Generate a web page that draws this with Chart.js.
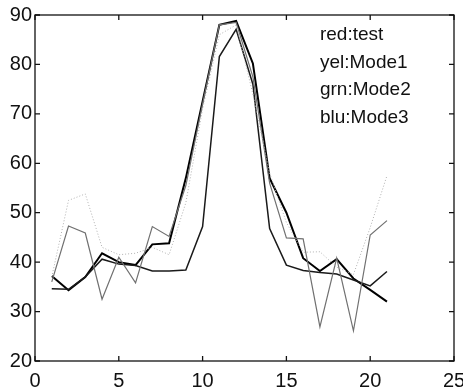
<!DOCTYPE html>
<html>
<head>
<meta charset="utf-8">
<script src="https://cdn.jsdelivr.net/npm/chart.js@4.4.1/dist/chart.umd.min.js"></script>
<style>
  html, body { margin: 0; padding: 0; background: #fff; }
  #wrap { width: 463px; height: 389px; }
</style>
</head>
<body>
<div id="wrap"><canvas id="chart"></canvas></div>
<script>
// sample index 1..21
var xs = [1, 2, 3, 4, 5, 6, 7, 8, 9, 10, 11, 12, 13, 14, 15, 16, 17, 18, 19, 20, 21];

// values
var modeA = [34.6, 34.5, 37.0, 40.6, 39.6, 39.3, 38.2, 38.2, 38.4, 47.2, 81.6, 87.1, 76.0, 46.8, 39.4, 38.3, 37.9, 37.6, 36.4, 35.2, 38.1];
var modeB = [37.2, 34.3, 37.0, 41.8, 40.0, 39.4, 43.6, 43.8, 57.0, 72.5, 88.0, 88.8, 80.2, 57.0, 50.0, 40.8, 38.2, 40.6, 36.7, 34.4, 32.0];
var modeC = [36.0, 47.3, 45.9, 32.5, 41.0, 35.8, 47.2, 45.2, 55.5, 72.0, 88.0, 88.5, 77.5, 56.0, 44.9, 44.7, 26.9, 40.8, 26.1, 45.5, 48.4];
var modeD = [37.0, 52.5, 53.8, 43.0, 41.5, 41.8, 43.0, 41.5, 52.0, 71.0, 86.0, 88.0, 74.0, 58.0, 48.0, 42.0, 42.1, 39.0, 37.5, 47.0, 57.5];

var xTicks = [0, 5, 10, 15, 20, 25];
var yTicks = [20, 30, 40, 50, 60, 70, 80, 90];
var notes = ['red:test', 'yel:Mode1', 'grn:Mode2', 'blu:Mode3'];

var FONT = '"Liberation Sans", Arial, sans-serif';

function pts(vals) {
   return xs.map(function(x, i) { return { x: x, y: vals[i] }; });
}

// matlab-style box with inward ticks and the text notes
var boxPlugin = {
   id: 'box',
   afterDraw: function(chart) {
      var ctx = chart.ctx, a = chart.chartArea;
      var sx = chart.scales.x, sy = chart.scales.y;
      ctx.save();
      ctx.strokeStyle = '#111';
      ctx.lineWidth = 1.3;
      ctx.strokeRect(a.left, a.top, a.right - a.left, a.bottom - a.top);
      ctx.beginPath();
      xTicks.forEach(function(t) {
         var px = sx.getPixelForValue(t);
         ctx.moveTo(px, a.bottom); ctx.lineTo(px, a.bottom - 5);
         ctx.moveTo(px, a.top); ctx.lineTo(px, a.top + 5);
      });
      yTicks.forEach(function(t) {
         var py = sy.getPixelForValue(t);
         ctx.moveTo(a.left, py); ctx.lineTo(a.left + 5, py);
         ctx.moveTo(a.right, py); ctx.lineTo(a.right - 5, py);
      });
      ctx.stroke();

      ctx.fillStyle = '#111';
      ctx.font = '19px ' + FONT;
      ctx.textBaseline = 'middle';
      var tx = sx.getPixelForValue(17.0);
      notes.forEach(function(s, i) {
         ctx.fillText(s, tx, sy.getPixelForValue(86 - i * 5.6));
      });
      ctx.restore();
   }
};

new Chart(document.getElementById('chart'), {
   type: 'line',
   data: {
      datasets: [
         { data: pts(modeD), borderColor: '#b0b0b0', borderWidth: 1, borderDash: [1, 2] },
         { data: pts(modeC), borderColor: '#707070', borderWidth: 1.2 },
         { data: pts(modeA), borderColor: '#1a1a1a', borderWidth: 1.5 },
         { data: pts(modeB), borderColor: '#000', borderWidth: 2 }
      ]
   },
   options: {
      responsive: true,
      maintainAspectRatio: false,
      animation: false,
      layout: { padding: { top: 15, right: 9, left: 0, bottom: 0 } },
      elements: { point: { radius: 0 }, line: { tension: 0 } },
      plugins: { legend: { display: false }, tooltip: { enabled: false } },
      scales: {
         x: {
            type: 'linear', min: 0, max: 25,
            afterBuildTicks: function(s) { s.ticks = xTicks.map(function(v) { return { value: v }; }); },
            afterFit: function(s) { s.height = 28; s.paddingLeft = 0; s.paddingRight = 0; },
            grid: { display: false, drawTicks: false },
            border: { display: false },
            ticks: { color: '#111', padding: 8, maxRotation: 0, font: { family: FONT, size: 20 } }
         },
         y: {
            min: 20, max: 90,
            afterBuildTicks: function(s) { s.ticks = yTicks.map(function(v) { return { value: v }; }); },
            afterFit: function(s) { s.width = 35; s.paddingTop = 0; s.paddingBottom = 0; },
            grid: { display: false, drawTicks: false },
            border: { display: false },
            ticks: { color: '#111', padding: 3, font: { family: FONT, size: 20 } }
         }
      }
   },
   plugins: [boxPlugin]
});
</script>
</body>
</html>
